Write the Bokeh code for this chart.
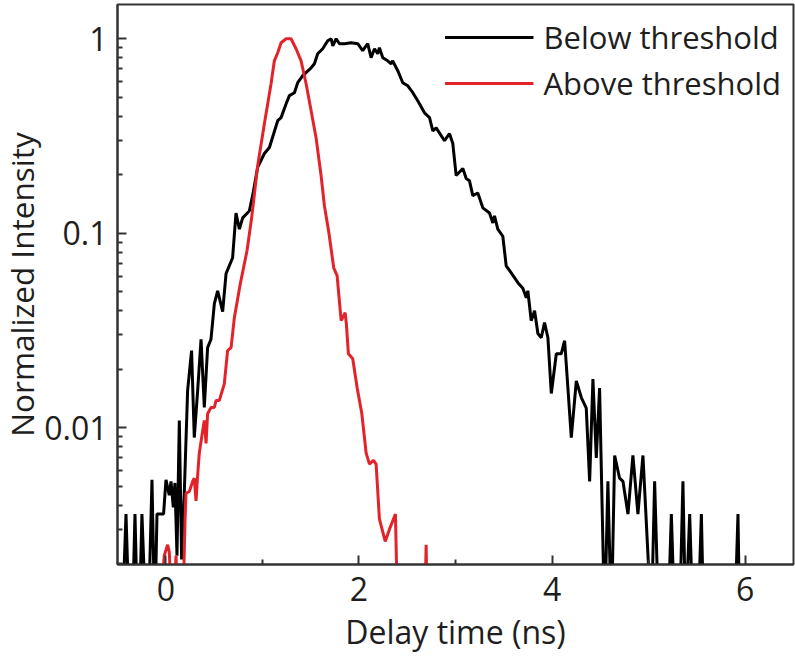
from bokeh.plotting import figure
from bokeh.models import FixedTicker, CustomJSTickFormatter, Range1d, Legend, LegendItem
from bokeh.embed import file_html
from bokeh.resources import INLINE

# ---- data ----
below_t = [-0.503, -0.451, -0.412, -0.378, -0.347, -0.319, -0.292, -0.275, -0.247, -0.205,
           -0.181, -0.143, -0.114, -0.091, -0.023, 0.002, 0.036, 0.054, 0.078, 0.095,
           0.116, 0.140, 0.164, 0.192, 0.226, 0.267, 0.295, 0.330, 0.365, 0.399,
           0.433, 0.468, 0.503, 0.537, 0.589, 0.624, 0.692, 0.727, 0.762, 0.796,
           0.865, 0.899, 0.951, 1.021, 1.073, 1.159, 1.194, 1.246, 1.280, 1.332,
           1.366, 1.418, 1.505, 1.539, 1.573, 1.625, 1.677, 1.712, 1.729, 1.764,
           1.798, 1.850, 1.919, 1.988, 2.039, 2.091, 2.126, 2.161, 2.195, 2.212,
           2.247, 2.298, 2.334, 2.350, 2.402, 2.454, 2.506, 2.558, 2.609, 2.679,
           2.731, 2.765, 2.800, 2.886, 2.938, 2.972, 3.007, 3.076, 3.111, 3.145,
           3.179, 3.231, 3.283, 3.352, 3.387, 3.404, 3.438, 3.490, 3.525, 3.577,
           3.646, 3.697, 3.733, 3.749, 3.784, 3.819, 3.853, 3.888, 3.922, 3.957,
           3.992, 4.044, 4.095, 4.130, 4.164, 4.199, 4.251, 4.303, 4.354, 4.389,
           4.423, 4.458, 4.492, 4.544, 4.578, 4.614, 4.648, 4.699, 4.734, 4.786,
           4.837, 4.889, 4.941, 5.028, 5.062, 5.104, 5.200, 5.235, 5.270, 5.320,
           5.355, 5.383, 5.425, 5.459, 5.511, 5.546, 5.570, 5.891, 5.925, 5.943,
           6.500]
below_i = [0.001, 0.001, 0.0036, 0.001, 0.001, 0.0036, 0.001, 0.001, 0.0036, 0.001,
           0.001, 0.0054, 0.001, 0.0036, 0.0036, 0.0054, 0.0045, 0.0053, 0.0039, 0.0052,
           0.0022, 0.0109, 0.0021, 0.0047, 0.0155, 0.0249, 0.0089, 0.0155, 0.0285, 0.0127,
           0.0258, 0.0285, 0.0434, 0.0506, 0.0395, 0.0620, 0.0748, 0.127, 0.105, 0.120,
           0.130, 0.156, 0.218, 0.257, 0.276, 0.379, 0.393, 0.463, 0.510, 0.528,
           0.594, 0.646, 0.709, 0.744, 0.837, 0.888, 0.977, 1.0, 0.920, 1.0,
           0.943, 0.943, 0.954, 0.943, 0.868, 0.943, 0.799, 0.888, 0.837, 0.899,
           0.799, 0.770, 0.744, 0.770, 0.685, 0.594, 0.573, 0.528, 0.480, 0.416,
           0.393, 0.336, 0.348, 0.299, 0.325, 0.289, 0.198, 0.215, 0.191, 0.186,
           0.156, 0.161, 0.135, 0.127, 0.113, 0.123, 0.105, 0.0965, 0.0680, 0.0626,
           0.0557, 0.0521, 0.0466, 0.0506, 0.0355, 0.0400, 0.0305, 0.0290, 0.0347, 0.0290,
           0.0150, 0.0240, 0.0240, 0.0280, 0.0160, 0.0089, 0.0174, 0.0143, 0.0126, 0.0053,
           0.0178, 0.0070, 0.0160, 0.001, 0.0053, 0.001, 0.0072, 0.0055, 0.0053, 0.0036,
           0.0072, 0.0036, 0.0072, 0.001, 0.0053, 0.001, 0.001, 0.0036, 0.001, 0.001,
           0.0053, 0.001, 0.0036, 0.001, 0.001, 0.0036, 0.001, 0.001, 0.0036, 0.001,
           0.001]

above_t = [-0.500, -0.067, -0.016, 0.019, 0.036, 0.070, 0.106, 0.130, 0.174, 0.199,
           0.209, 0.244, 0.278, 0.295, 0.313, 0.330, 0.347, 0.381, 0.399, 0.417,
           0.433, 0.468, 0.503, 0.520, 0.554, 0.606, 0.640, 0.676, 0.710, 0.772,
           0.841, 0.889, 0.910, 0.951, 1.021, 1.090, 1.124, 1.159, 1.194, 1.246,
           1.297, 1.349, 1.401, 1.453, 1.505, 1.556, 1.608, 1.642, 1.687, 1.739,
           1.774, 1.816, 1.857, 1.870, 1.891, 1.936, 1.981, 2.029, 2.075, 2.109,
           2.150, 2.178, 2.212, 2.272, 2.316, 2.378, 2.402, 2.679, 2.696, 2.710,
           6.500]
above_i = [0.001, 0.001, 0.0022, 0.0025, 0.0023, 0.001, 0.0022, 0.001, 0.001, 0.0033,
           0.0046, 0.0047, 0.0053, 0.0055, 0.0042, 0.0057, 0.0074, 0.0096, 0.0109, 0.0083,
           0.0118, 0.0127, 0.0127, 0.0138, 0.0138, 0.0168, 0.0249, 0.0258, 0.0368, 0.0551,
           0.0813, 0.120, 0.147, 0.222, 0.366, 0.587, 0.770, 0.847, 0.954, 1.0,
           1.0, 0.888, 0.770, 0.587, 0.426, 0.310, 0.198, 0.139, 0.102, 0.0664,
           0.0605, 0.0355, 0.0390, 0.0342, 0.0240, 0.0226, 0.0161, 0.0119, 0.0074, 0.0065,
           0.0068, 0.0065, 0.0034, 0.0026, 0.0030, 0.0036, 0.001, 0.001, 0.0025, 0.001,
           0.001]

x_ticks = [0, 2, 4, 6]
x_minor = [1, 3, 5]
y_ticks = [0.01, 0.1, 1]
y_minor = [0.002, 0.003, 0.004, 0.005, 0.006, 0.007, 0.008, 0.009,
           0.02, 0.03, 0.04, 0.05, 0.06, 0.07, 0.08, 0.09,
           0.2, 0.3, 0.4, 0.5, 0.6, 0.7, 0.8, 0.9]
series_names = ["Below threshold", "Above threshold"]
x_title = "Delay time (ns)"
y_title = "Normalized Intensity"

FONT = "Open Sans"
TXT = "#1e1e1e"
FRAME_W, FRAME_H = 676, 560

p = figure(frame_width=FRAME_W, frame_height=FRAME_H, y_axis_type="log",
           x_range=Range1d(-0.5, 6.5), y_range=Range1d(0.00198, 1.5),
           output_backend="svg", toolbar_location=None,
           min_border_left=113, min_border_right=3, min_border_top=4, min_border_bottom=60)
p.styles = {"margin-left": "-3px"}
p.grid.visible = False
p.background_fill_color = "white"
p.outline_line_color = "#333333"
p.outline_line_width = 2

r1 = p.line(below_t, below_i, line_color="black", line_width=3)
r2 = p.line(above_t, above_i, line_color="#e3232a", line_width=3)

xa = p.xaxis[0]
xa.ticker = FixedTicker(ticks=x_ticks, minor_ticks=x_minor)
ya = p.yaxis[0]
ya.ticker = FixedTicker(ticks=y_ticks, minor_ticks=y_minor)
ya.formatter = CustomJSTickFormatter(code="return tick.toString();")

for ax in (xa, ya):
    ax.axis_line_color = "#333333"
    ax.axis_line_width = 2
    ax.major_tick_in = 9
    ax.major_tick_out = 0
    ax.minor_tick_in = 5
    ax.minor_tick_out = 0
    ax.major_tick_line_color = "#333333"
    ax.major_tick_line_width = 2
    ax.minor_tick_line_color = "#333333"
    ax.minor_tick_line_width = 2
    ax.major_label_text_font = FONT
    ax.major_label_text_font_size = "32px"
    ax.major_label_text_color = TXT
    ax.axis_label_text_font = FONT
    ax.axis_label_text_font_size = "32px"
    ax.axis_label_text_font_style = "normal"
    ax.axis_label_text_color = TXT

xa.axis_label = x_title
xa.major_label_standoff = 12
xa.axis_label_standoff = 6
ya.axis_label = y_title
ya.axis_label_text_font_size = "31.5px"
ya.major_label_standoff = 10
ya.axis_label_standoff = -2

legend = Legend(items=[LegendItem(label=series_names[0], renderers=[r1]),
                       LegendItem(label=series_names[1], renderers=[r2])],
                location="top_right")
legend.border_line_color = None
legend.background_fill_alpha = 0
legend.margin = 12
legend.padding = 10
legend.spacing = 4
legend.glyph_width = 89
legend.glyph_height = 40
legend.label_height = 40
legend.label_standoff = 10
legend.label_text_font = FONT
legend.label_text_font_size = "31px"
legend.label_text_color = TXT
p.add_layout(legend, "center")

open("out.html", "w").write(file_html(p, INLINE))
